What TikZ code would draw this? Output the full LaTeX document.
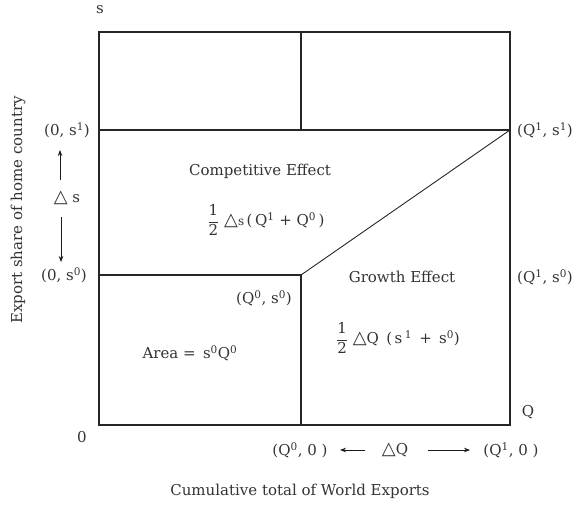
\documentclass[tikz,border=0pt]{standalone}
\usepackage{amsmath}
\usepackage{fontspec}
\setmainfont{DejaVu Serif}
\newfontfamily\symfont{DejaVu Sans}
\usetikzlibrary{arrows.meta}
\newcommand{\tri}{{\symfont\fontsize{18}{18}\selectfont △}}
\newcommand{\hlf}{$\dfrac{\text{1}}{\text{2}}$}
\newcommand{\sps}[1]{\textsuperscript{#1}}
\begin{document}
\begin{tikzpicture}[x=1pt,y=-1pt,
  lbl/.style={inner sep=1pt, font=\fontsize{15}{17}\selectfont, text=black!80},
  frame/.style={draw=black!85, line width=1.4pt},
  arr/.style={draw=black!90, line width=0.8pt, -{Stealth[length=6pt,width=4.5pt]}}]
\useasboundingbox (0,0) rectangle (575,505);
% corner coordinates
\coordinate (A) at (99,32);
\coordinate (B) at (510,32);
\coordinate (C) at (510,425);
\coordinate (D) at (99,425);
\coordinate (T1) at (301,32);
\coordinate (T2) at (301,130);
\coordinate (L1) at (99,130);
\coordinate (R1) at (510,130);
\coordinate (L0) at (99,275);
\coordinate (M0) at (301,275);
\coordinate (B0) at (301,425);
\draw[frame] (A) -- (B) -- (C) -- (D) -- cycle;
\draw[frame] (T1) -- (T2);
\draw[frame] (L1) -- (R1);
\draw[frame] (L0) -- (M0) -- (B0);
\draw[line width=0.9pt, draw=black!85] (M0) -- (R1);
% axis labels
\node[lbl] (sax) at (100,10) {s};
\node[lbl] (qax) at (528,412) {Q};
\node[lbl] (zero) at (82,437) {0};
\node[lbl, rotate=90] (ylab) at (18,210) {Export share of home country};
\node[lbl] (xlab) at (300,491) {Cumulative total of World Exports};
% left labels
\node[lbl] (s1) at (67,130) {(0, s\sps{1})};
\node[lbl] (s0) at (64,275) {(0, s\sps{0})};
\node[lbl] (ds) at (67,198) {\tri\ s};
\coordinate (us) at (60,180);
\coordinate (ue) at (60,150);
\coordinate (ds1) at (61,217);
\coordinate (ds2) at (61,262);
\draw[arr] (us) -- (ue);
\draw[arr] (ds1) -- (ds2);
% right labels
\node[lbl] (q1s1) at (545,130) {(Q\sps{1}, s\sps{1})};
\node[lbl] (q1s0) at (545,277) {(Q\sps{1}, s\sps{0})};
% interior
\node[lbl] (comp) at (260,171) {Competitive Effect};
\node[lbl] (compf) at (266,220) {\hlf\ \tri{\fontsize{12}{12}\selectfont s}\,(\,Q\sps{1} + Q\sps{0}\,)};
\node[lbl] (q0s0) at (264,298) {(Q\sps{0}, s\sps{0})};
\node[lbl] (grow) at (402,277) {Growth Effect};
\node[lbl] (growf) at (398,338) {\hlf\ \tri Q \,(\,s\,\sps{1}\, + \,s\sps{0})};
\node[lbl] (area) at (190,353) {Area = \,s\sps{0}Q\sps{0}};
% bottom
\node[lbl] (q00) at (300,450) {(Q\sps{0}, 0 )};
\node[lbl] (dq) at (395,450) {\tri Q};
\node[lbl] (q10) at (511,450) {(Q\sps{1}, 0 )};
\coordinate (la) at (365,450);
\coordinate (lb) at (340,450);
\coordinate (ra) at (428,450);
\coordinate (rb) at (470,450);
\draw[arr] (la) -- (lb);
\draw[arr] (ra) -- (rb);
\end{tikzpicture}
\end{document}
